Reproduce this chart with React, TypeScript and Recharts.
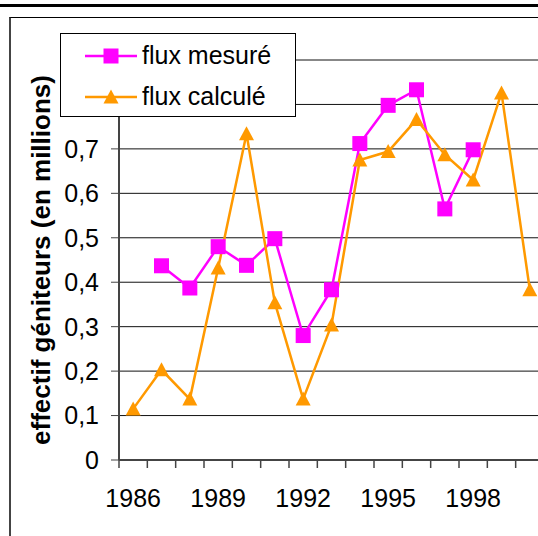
import { LineChart, Line, XAxis, YAxis, CartesianGrid, Legend } from "recharts";

const years = [1986, 1987, 1988, 1989, 1990, 1991, 1992, 1993, 1994, 1995, 1996, 1997, 1998, 1999, 2000];
const fluxMesure: (number | null)[] = [
  null, 0.437, 0.387, 0.48, 0.438, 0.498, 0.28, 0.383, 0.712, 0.798, 0.833, 0.565, 0.698, null, null,
];
const fluxCalcule = [
  0.115, 0.203, 0.137, 0.432, 0.734, 0.354, 0.137, 0.304, 0.675, 0.694, 0.766, 0.687, 0.63, 0.826, 0.383,
];
const yTicks = [0, 0.1, 0.2, 0.3, 0.4, 0.5, 0.6, 0.7, 0.8, 0.9];
const labelYears = [1986, 1989, 1992, 1995, 1998];
const seriesOrder = ["mesure", "calcule"];

const MAGENTA = "#ff00ff";
const ORANGE = "#ff9900";
const AXIS = "#444";
const FONT = '"Liberation Sans", Arial, Helvetica, sans-serif';

const data = years.map((year, i) => ({ year, mesure: fluxMesure[i], calcule: fluxCalcule[i] }));

// excel-style category axis: tick marks sit between the years, labels every 3 years
const xTicks = [...years.map((y) => y - 0.5), years[years.length - 1] + 0.5, ...labelYears].sort((a, b) => a - b);

const fmtY = (v: number) => (v === 0 ? "0" : v.toFixed(1).replace(".", ","));

function YearTick({ x, y, payload }: any) {
  const v = payload.value as number;
  if (!Number.isInteger(v)) {
    return <line x1={x} x2={x} y1={y - 8} y2={y} stroke={AXIS} strokeWidth={1.5} />;
  }
  return (
    <text x={x} y={y + 39} textAnchor="middle" fontSize={25} fontFamily={FONT} fill="#000">
      {v}
    </text>
  );
}

function Square({ cx, cy, color }: { cx: number; cy: number; color: string }) {
  return <rect x={cx - 7.5} y={cy - 7.5} width={15} height={15} fill={color} />;
}

function Triangle({ cx, cy, color }: { cx: number; cy: number; color: string }) {
  return <polygon points={`${cx},${cy - 7.5} ${cx + 7.5},${cy + 6.5} ${cx - 7.5},${cy + 6.5}`} fill={color} />;
}

const squareDot = (p: any) =>
  p.cx == null || p.cy == null || p.value == null ? (
    <g key={p.index} />
  ) : (
    <Square key={p.index} cx={p.cx} cy={p.cy} color={MAGENTA} />
  );

const triangleDot = (p: any) =>
  p.cx == null || p.cy == null || p.value == null ? (
    <g key={p.index} />
  ) : (
    <Triangle key={p.index} cx={p.cx} cy={p.cy} color={ORANGE} />
  );

function LegendBox({ payload }: any) {
  const items = [...(payload || [])].sort(
    (a: any, b: any) => seriesOrder.indexOf(a.dataKey) - seriesOrder.indexOf(b.dataKey)
  );
  return (
    <div
      style={{
        width: 236,
        height: 84,
        boxSizing: "border-box",
        border: "1px solid #000",
        background: "#fff",
        paddingTop: 1,
        fontFamily: FONT,
        fontSize: 25,
        color: "#000",
      }}
    >
      {items.map((item: any) => (
        <div key={item.value} style={{ display: "flex", alignItems: "center", height: 41 }}>
          <svg width={52} height={20} style={{ marginLeft: 24, marginRight: 5 }}>
            <line x1={0} x2={52} y1={10} y2={10} stroke={item.color} strokeWidth={2.5} />
            {item.dataKey === "mesure" ? (
              <Square cx={26} cy={10} color={item.color} />
            ) : (
              <Triangle cx={26} cy={10} color={item.color} />
            )}
          </svg>
          <span style={{ lineHeight: "41px", whiteSpace: "nowrap" }}>{item.value}</span>
        </div>
      ))}
    </div>
  );
}

export default function App() {
  return (
    <div
      style={{
        position: "absolute",
        left: 0,
        top: 0,
        width: 538,
        height: 536,
        overflow: "hidden",
        background: "#fff",
        fontFamily: FONT,
      }}
    >
      <div style={{ position: "absolute", left: 0, top: 4, width: 538, height: 3, background: "#000" }} />
      <div
        style={{
          position: "absolute",
          left: 9,
          top: 17,
          width: 560,
          height: 560,
          borderTop: "1px solid #000",
          borderLeft: "2px solid #444",
        }}
      />
      <LineChart width={560} height={536} data={data} margin={{ top: 60, right: 16, bottom: 16, left: 0 }}>
        <CartesianGrid vertical={false} stroke="#111" strokeWidth={1} />
        <XAxis
          dataKey="year"
          type="number"
          domain={[years[0] - 0.5, years[years.length - 1] + 0.5]}
          ticks={xTicks}
          interval={0}
          tick={<YearTick />}
          tickLine={false}
          tickSize={8}
          tickMargin={0}
          height={60}
          axisLine={{ stroke: AXIS, strokeWidth: 2 }}
        />
        <YAxis
          type="number"
          domain={[0, 0.9]}
          ticks={yTicks}
          interval={0}
          width={119}
          tickFormatter={fmtY}
          tickSize={8}
          tickMargin={12}
          tick={{ fontSize: 25, fill: "#000", fontFamily: FONT }}
          tickLine={{ stroke: AXIS }}
          axisLine={{ stroke: AXIS, strokeWidth: 2 }}
          label={{
            content: (props: any) => {
              const vb = props.viewBox || { x: 0, y: 60, width: 119, height: 400 };
              return (
                <text
                  transform={`translate(${vb.x + 50},${vb.y + vb.height / 2}) rotate(-90)`}
                  textAnchor="middle"
                  fontSize={26}
                  fontWeight="bold"
                  fontFamily={FONT}
                  fill="#000"
                >
                  effectif géniteurs (en millions)
                </text>
              );
            },
          }}
        />
        <Legend
          layout="horizontal"
          verticalAlign="middle"
          align="center"
          wrapperStyle={{ left: 60, top: 33, width: 236, height: 84 }}
          content={<LegendBox />}
        />
        <Line
          dataKey="mesure"
          name="flux mesuré"
          type="linear"
          stroke={MAGENTA}
          strokeWidth={2.5}
          dot={squareDot}
          activeDot={false}
          isAnimationActive={false}
        />
        <Line
          dataKey="calcule"
          name="flux calculé"
          type="linear"
          stroke={ORANGE}
          strokeWidth={2.5}
          dot={triangleDot}
          activeDot={false}
          isAnimationActive={false}
        />
      </LineChart>
    </div>
  );
}
